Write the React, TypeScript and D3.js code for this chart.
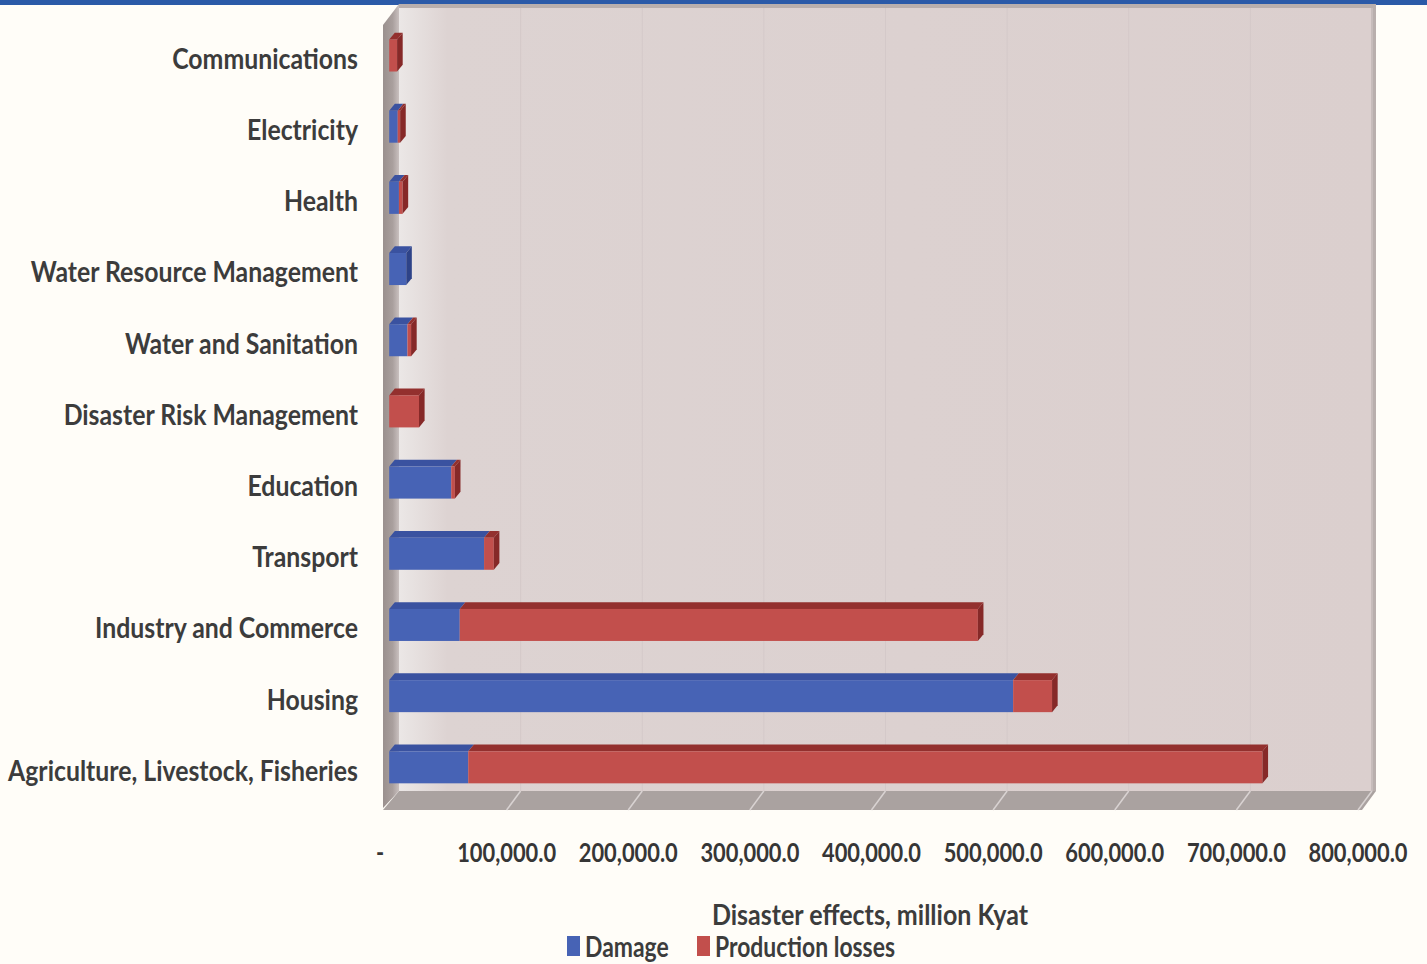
import React, { useLayoutEffect, useRef, useState } from "react";
import * as d3 from "d3";

// ---- data ----
const categories = [
  "Agriculture, Livestock, Fisheries",
  "Housing",
  "Industry and Commerce",
  "Transport",
  "Education",
  "Disaster Risk Management",
  "Water and Sanitation",
  "Water Resource Management",
  "Health",
  "Electricity",
  "Communications",
];
const damage = [65000, 513000, 58000, 78000, 51000, 0, 15000, 14000, 8000, 7000, 0];
const productionLosses = [653000, 32000, 426000, 8000, 3000, 24500, 3000, 0, 3000, 2000, 6500];
const seriesNames = ["Damage", "Production losses"];
const tickValues = [0, 100000, 200000, 300000, 400000, 500000, 600000, 700000, 800000];
const axisTitle = "Disaster effects, million Kyat";

// ---- layout ----
const W = 1427;
const H = 964;
const DX = 14;
const DY = -17;
const FRONT_TOP = 25;
const FRONT_BOTTOM = 808;
const D0 = 0.3;
const D1 = 0.7;
const FONT = "Lato, 'Open Sans', 'DejaVu Sans', sans-serif";
const TEXT = "#3c3c3c";

const colors = {
  damage: { front: "#4763b5", top: "#3a52a0", end: "#2e4388" },
  loss: { front: "#c24f4c", top: "#93302e", end: "#862928" },
};

export default function App() {
  const labRef = useRef<SVGTextElement>(null);
  const tickRef = useRef<SVGTextElement>(null);
  const titleRef = useRef<SVGTextElement>(null);
  const legRef = useRef<SVGTextElement>(null);
  const [k, setK] = useState({ lab: 1, tick: 1, title: 1, leg: 1 });

  useLayoutEffect(() => {
    const measure = () => {
      const m = (r: React.RefObject<SVGTextElement>, target: number) =>
        r.current ? target / r.current.getComputedTextLength() : 1;
      setK({
        lab: m(labRef, 350),
        tick: m(tickRef, 99),
        title: m(titleRef, 316),
        leg: m(legRef, 180),
      });
    };
    measure();
    if ((document as any).fonts && (document as any).fonts.ready) {
      (document as any).fonts.ready.then(measure);
    }
  }, []);

  const x = d3.scaleLinear().domain([0, 800000]).range([385, 1358]);
  const y = d3
    .scaleBand<string>()
    .domain([...categories].reverse())
    .range([FRONT_TOP, FRONT_BOTTOM])
    .paddingInner(0.55)
    .paddingOuter(0.275);
  const bw = y.bandwidth();

  const stack = d3
    .stack<any>()
    .keys(["damage", "loss"])(categories.map((c, i) => ({ cat: c, damage: damage[i], loss: productionLosses[i] })));

  const pt = (px: number, py: number) => `${px},${py}`;

  const xMax = x(800000);
  const backLeft = x(0) + DX;
  const backRight = xMax + DX + 4;
  const backTop = FRONT_TOP + DY;
  const backBottom = FRONT_BOTTOM + DY;

  const bars: React.ReactNode[] = [];
  categories.forEach((cat, i) => {
    const yb = y(cat) as number;
    const segs = stack.map((s) => ({ key: s.key, v0: s[i][0], v1: s[i][1] })).filter((s) => s.v1 > s.v0);
    segs.forEach((s, j) => {
      const c = s.key === "damage" ? colors.damage : colors.loss;
      const xa = x(s.v0);
      const xb = x(s.v1);
      const fy = yb + D0 * DY;
      const by = yb + D1 * DY;
      bars.push(
        <g key={cat + s.key}>
          <polygon
            points={[pt(xa + D0 * DX, fy), pt(xb + D0 * DX, fy), pt(xb + D1 * DX, by), pt(xa + D1 * DX, by)].join(" ")}
            fill={c.top}
          />
          <rect x={xa + D0 * DX} y={fy} width={xb - xa} height={bw} fill={c.front} />
          {j === segs.length - 1 && (
            <polygon
              points={[pt(xb + D0 * DX, fy), pt(xb + D1 * DX, by), pt(xb + D1 * DX, by + bw), pt(xb + D0 * DX, fy + bw)].join(" ")}
              fill={c.end}
            />
          )}
        </g>
      );
    });
  });

  return (
    <svg width={W} height={H} style={{ position: "fixed", left: 0, top: 0, display: "block" }}>
      <defs>
        <linearGradient id="wall" x1="0" x2="1" y1="0" y2="0">
          <stop offset="0" stopColor="#ebe7e6" />
          <stop offset="0.05" stopColor="#ddd3d2" />
          <stop offset="1" stopColor="#dbcfce" />
        </linearGradient>
        <linearGradient id="side" x1="0" x2="1" y1="0" y2="0">
          <stop offset="0" stopColor="#9a908e" />
          <stop offset="0.6" stopColor="#a99f9d" />
          <stop offset="1" stopColor="#c9c0bf" />
        </linearGradient>
      </defs>
      <rect x={0} y={0} width={W} height={H} fill="#fffdf8" />
      <rect x={0} y={0} width={W} height={5} fill="#2b5aa8" />

      {/* back wall */}
      <rect x={backLeft} y={backTop - 4} width={backRight - backLeft} height={backBottom - backTop + 4} fill="#b9afad" />
      <rect x={backLeft} y={backTop} width={backRight - backLeft - 5} height={backBottom - backTop} fill="url(#wall)" />
      {tickValues.slice(1).map((t) => (
        <line key={"g" + t} x1={x(t) + DX} x2={x(t) + DX} y1={backTop} y2={backBottom} stroke="#d4c9c9" strokeWidth={1} />
      ))}
      {/* side wall */}
      <polygon
        points={[pt(x(0) - 2, FRONT_TOP), pt(backLeft, backTop - 4), pt(backLeft, backBottom), pt(x(0) - 2, FRONT_BOTTOM)].join(" ")}
        fill="url(#side)"
      />
      {/* floor */}
      <polygon
        points={[pt(x(0) - 2, FRONT_BOTTOM + 2), pt(xMax + 4, FRONT_BOTTOM + 2), pt(backRight, backBottom), pt(backLeft, backBottom)].join(" ")}
        fill="#aaa2a0"
      />
      {tickValues.slice(1).map((t) => (
        <line key={"f" + t} x1={x(t)} y1={FRONT_BOTTOM + 2} x2={x(t) + DX} y2={backBottom} stroke="#d9d3d2" strokeWidth={1.5} />
      ))}

      {bars}

      {/* category labels */}
      {categories.map((cat, i) => (
        <text
          key={cat}
          ref={i === 0 ? labRef : undefined}
          transform={`translate(358,${(y(cat) as number) + D0 * DY + bw / 2 + 3}) scale(${k.lab},1)`}
          textAnchor="end"
          dy="0.36em"
          fontFamily={FONT}
          fontSize={29}
          fontWeight={700}
          fill={TEXT}
        >
          {cat}
        </text>
      ))}

      {/* ticks */}
      {tickValues.map((t, i) => (
        <text
          key={"t" + t}
          ref={i === 1 ? tickRef : undefined}
          transform={`translate(${t === 0 ? 380 : x(t)},862) scale(${k.tick},1)`}
          textAnchor="middle"
          fontFamily={FONT}
          fontSize={26}
          fontWeight={700}
          fill="#363636"
        >
          {t === 0 ? "-" : d3.format(",.1f")(t)}
        </text>
      ))}

      {/* axis title */}
      <text
        ref={titleRef}
        transform={`translate(870,925) scale(${k.title},1)`}
        textAnchor="middle"
        fontFamily={FONT}
        fontSize={29}
        fontWeight={700}
        fill={TEXT}
      >
        {axisTitle}
      </text>

      {/* legend */}
      <rect x={567} y={936} width={13} height={20} fill={colors.damage.front} />
      <text transform={`translate(585,957) scale(${k.leg},1)`} fontFamily={FONT} fontSize={28} fontWeight={700} fill={TEXT}>
        {seriesNames[0]}
      </text>
      <rect x={697} y={936} width={13} height={20} fill={colors.loss.front} />
      <text ref={legRef} transform={`translate(715,957) scale(${k.leg},1)`} fontFamily={FONT} fontSize={28} fontWeight={700} fill={TEXT}>
        {seriesNames[1]}
      </text>
    </svg>
  );
}
